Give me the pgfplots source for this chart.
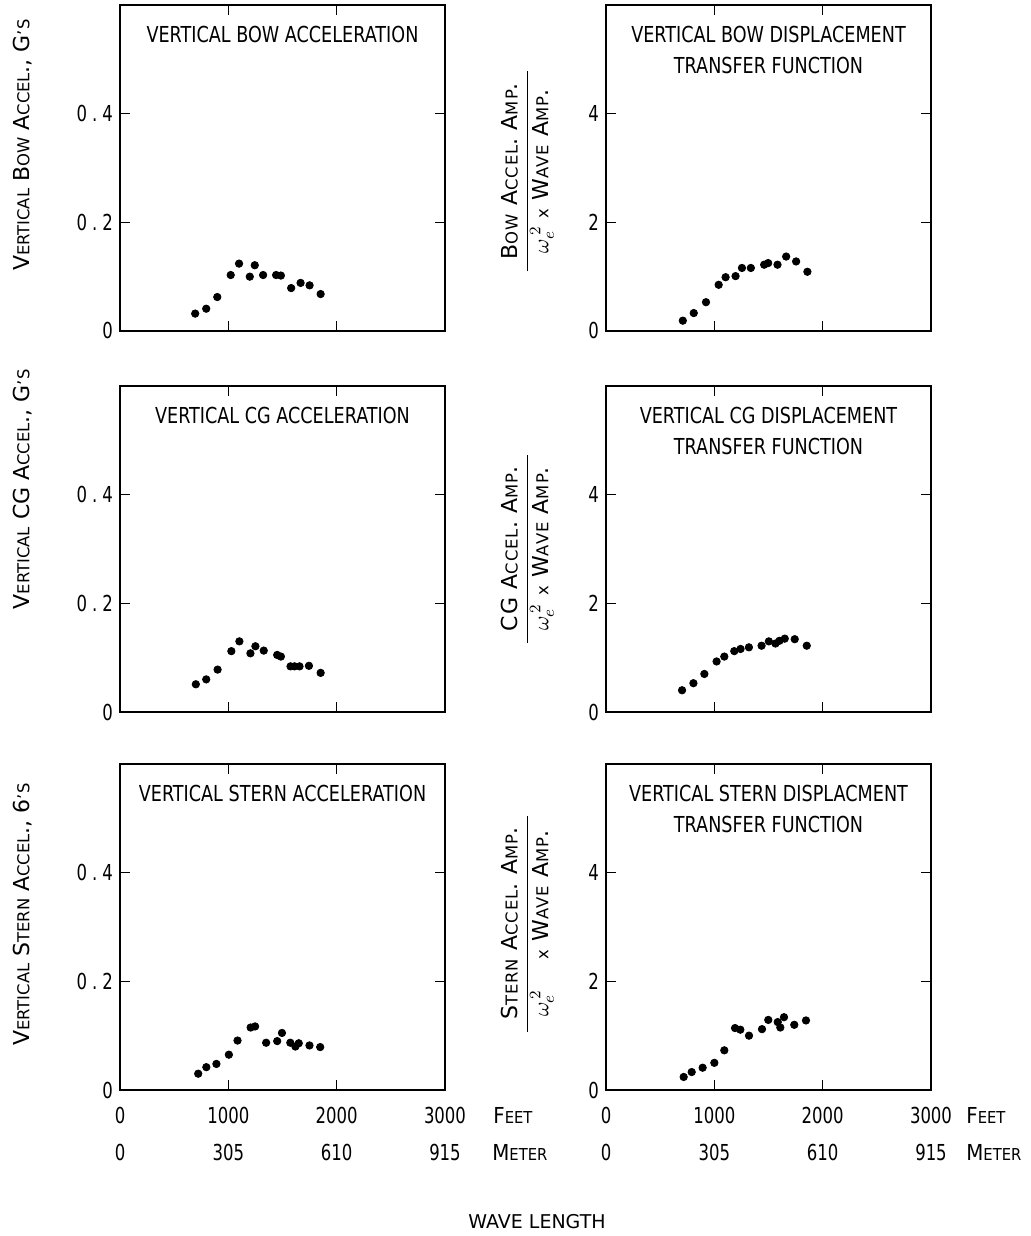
\documentclass[border=0pt]{standalone}
\usepackage{fontspec}
\setmainfont{DejaVu Sans}
\newfontfamily\condfont{DejaVu Sans}[FakeStretch=0.8]
\newfontfamily\tickfont{DejaVu Sans}[FakeStretch=0.75]
\newfontfamily\rlabfont{DejaVu Sans}[LetterSpace=6]
\newfontfamily\unitfont{DejaVu Sans}[FakeStretch=0.9]
\usepackage{pgfplots}
\pgfplotsset{compat=1.18}

\newcommand\sm[1]{{\fontsize{8.2}{9}\selectfont #1}}
\newcommand\ttl{\fontsize{11}{15.5}\condfont}
\newcommand\dec[2]{#1\kern2.5pt.\kern2.5pt#2}

\tikzset{unitlab/.style={anchor=base west, inner sep=0pt, font=\fontsize{11}{13}\unitfont}}

\pgfplotsset{
  panel/.style={
    scale only axis, width=162.5pt, height=163pt,
    anchor=south west, clip=false,
    xmin=0, xmax=3000, xtick={0,1000,2000,3000}, xticklabels={},
    tick align=inside, xtick pos=both, ytick pos=both,
    major tick length=5pt,
    axis line style={line width=0.8pt},
    every tick/.style={line width=0.8pt, black},
    /pgf/number format/assume math mode=true,
    ticklabel style={font=\fontsize{11}{18.5}\tickfont, align=center},
    xticklabel style={yshift=-5pt},
    label style={font=\fontsize{11}{13}\selectfont},
  },
  lpanel/.style={panel, ymin=0, ymax=0.6, ytick={0,0.2,0.4}, yticklabels={0,\dec{0}{2},\dec{0}{4}}},
  rpanel/.style={panel, ymin=0, ymax=6, ytick={0,2,4}, yticklabels={0,2,4}},
  bottomrow/.style={xticklabels={{0\\0},{1000\\305},{2000\\610},{3000\\915}}},
  lylab/.style={ylabel style={at={(axis description cs:-0.30,#1)}, anchor=center, rotate=0}},
  rylab/.style={ylabel style={at={(axis description cs:-0.243,#1)}, anchor=center, rotate=0,
     font=\fontsize{11}{15}\rlabfont}},
  dots/.style={only marks, mark=*, mark size=1.85pt, black},
}

\begin{document}
\begin{tikzpicture}
\path[use as bounding box] (0,0) rectangle (515.5pt,618pt);

% ---------------- Row 1 ----------------
\begin{axis}[lpanel, at={(60pt,452.5pt)}, lylab=0.57,
  ylabel={V\sm{ERTICAL} B\sm{OW} A\sm{CCEL}., G\sm{'S}}]
\addplot[dots] coordinates {
(694,0.032) (796,0.041) (898,0.0625) (1022,0.103) (1099,0.124) (1198,0.100)
(1244,0.121) (1321,0.103) (1441,0.103) (1485,0.102) (1580,0.079) (1667,0.0885)
(1750,0.084) (1852,0.068)};
\node[anchor=north, align=center, font=\ttl] at (rel axis cs:0.5,1) [yshift=-7pt] {VERTICAL BOW ACCELERATION};
\end{axis}

\begin{axis}[rpanel, at={(303pt,452.5pt)}, rylab=0.49,
  ylabel={\begin{tabular}{c}B\sm{OW} A\sm{CCEL}. A\sm{MP}.\\\hline $\omega_e^{\,2}$ \sm{x} W\sm{AVE} A\sm{MP}.\end{tabular}}]
\addplot[dots] coordinates {
(709,0.19) (810,0.33) (923,0.53) (1040,0.85) (1104,0.99) (1196,1.01) (1255,1.16)
(1337,1.16) (1460,1.22) (1497,1.25) (1583,1.22) (1663,1.37) (1755,1.28) (1859,1.09)};
\node[anchor=north, align=center, font=\ttl] at (rel axis cs:0.5,1) [yshift=-7pt] {VERTICAL BOW DISPLACEMENT\\TRANSFER FUNCTION};
\end{axis}

% ---------------- Row 2 ----------------
\begin{axis}[lpanel, at={(60pt,262pt)}, lylab=0.683,
  ylabel={V\sm{ERTICAL} CG A\sm{CCEL}., G\sm{'S}}]
\addplot[dots] coordinates {
(700,0.051) (796,0.060) (901,0.078) (1028,0.112) (1102,0.130) (1204,0.108)
(1250,0.121) (1327,0.113) (1451,0.105) (1485,0.102) (1574,0.084) (1611,0.084)
(1657,0.084) (1744,0.085) (1852,0.072)};
\node[anchor=north, align=center, font=\ttl] at (rel axis cs:0.5,1) [yshift=-7pt] {VERTICAL CG ACCELERATION};
\end{axis}

\begin{axis}[rpanel, at={(303pt,262pt)}, rylab=0.50,
  ylabel={\begin{tabular}{c}CG A\sm{CCEL}. A\sm{MP}.\\\hline $\omega_e^{\,2}$ \sm{x} W\sm{AVE} A\sm{MP}.\end{tabular}}]
\addplot[dots] coordinates {
(702,0.40) (807,0.53) (908,0.70) (1021,0.93) (1092,1.02) (1184,1.12) (1242,1.16)
(1319,1.19) (1436,1.22) (1503,1.30) (1564,1.26) (1601,1.31) (1650,1.35)
(1742,1.34) (1853,1.22)};
\node[anchor=north, align=center, font=\ttl] at (rel axis cs:0.5,1) [yshift=-7pt] {VERTICAL CG DISPLACEMENT\\TRANSFER FUNCTION};
\end{axis}

% ---------------- Row 3 ----------------
\begin{axis}[lpanel, bottomrow, at={(60pt,73pt)}, lylab=0.538,
  ylabel={V\sm{ERTICAL} S\sm{TERN} A\sm{CCEL}., 6\sm{'S}}]
\addplot[dots] coordinates {
(722,0.030) (797,0.042) (890,0.048) (1005,0.065) (1085,0.091) (1206,0.115)
(1247,0.117) (1349,0.087) (1451,0.090) (1495,0.105) (1572,0.087) (1619,0.080)
(1650,0.086) (1749,0.082) (1848,0.079)};
\node[anchor=north, align=center, font=\ttl] at (rel axis cs:0.5,1) [yshift=-7pt] {VERTICAL STERN ACCELERATION};
\end{axis}

\begin{axis}[rpanel, bottomrow, at={(303pt,73pt)}, rylab=0.51,
  ylabel={\begin{tabular}{c}S\sm{TERN} A\sm{CCEL}. A\sm{MP}.\\\hline $\omega_e^{\,2}$ \quad\sm{x} W\sm{AVE} A\sm{MP}.\end{tabular}}]
\addplot[dots] coordinates {
(717,0.24) (791,0.33) (892,0.41) (1000,0.50) (1092,0.73) (1191,1.14) (1240,1.11)
(1320,1.00) (1440,1.12) (1498,1.29) (1585,1.25) (1609,1.15) (1643,1.34)
(1738,1.20) (1846,1.28)};
\node[anchor=north, align=center, font=\ttl] at (rel axis cs:0.5,1) [yshift=-7pt] {VERTICAL STERN DISPLACMENT\\TRANSFER FUNCTION};
\end{axis}

% units and axis title
\node[unitlab] at (246.5pt,56pt) {F\sm{EET}};
\node[unitlab] at (246pt,37.5pt) {M\sm{ETER}};
\node[unitlab] at (483pt,56pt) {F\sm{EET}};
\node[unitlab] at (483pt,37.5pt) {M\sm{ETER}};
\node[font=\fontsize{9.5}{12}\selectfont] at (268.5pt,7pt) {WAVE LENGTH};
\end{tikzpicture}
\end{document}
